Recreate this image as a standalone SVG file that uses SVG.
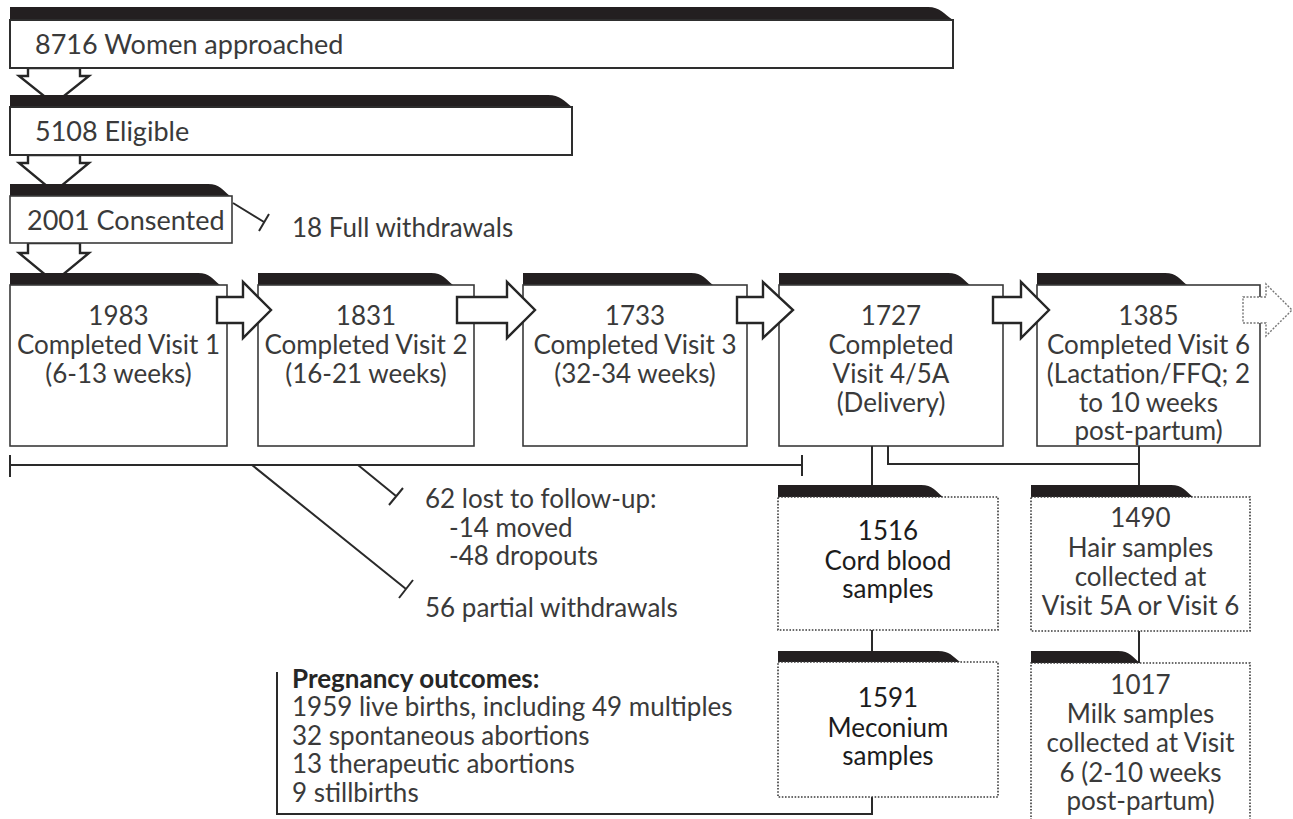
<svg xmlns="http://www.w3.org/2000/svg" width="1293" height="819" viewBox="0 0 1293 819">
  <style>
    .txt { font-family: Lato, "Open Sans", "Liberation Sans", sans-serif; font-size: 26px; fill: #3a3a3a; }
    .big { font-size: 27px; }
    .mid { text-anchor: middle; }
    .dark { fill: #1c1c1c; }
    .bold { font-weight: bold; fill: #262626; }
    .bar { fill: #231f20; }
    .body { fill: #fff; stroke: #2e2e2e; stroke-width: 2; }
    .thin { fill: #fff; stroke: #3a3a3a; stroke-width: 1.6; }
    .dot { fill: #fff; stroke: #3a3a3a; stroke-width: 1.6; stroke-dasharray: 1.6 1.6; }
    .line { fill: none; stroke: #2a2a2a; stroke-width: 2; }
    .blk { fill: #fff; stroke: #262626; stroke-width: 2.4; stroke-linejoin: miter; }
    .blk-dot { fill: #fff; stroke: #777; stroke-width: 1.4; stroke-dasharray: 2 1.5; }
  </style>

  <!-- block arrows (drawn first so the banners overlap their tips) -->
  <g id="flow-arrows">
    <path class="blk" d="M28,68 H80 V76 H89 L54,104 L19,76 H28 Z"/>
    <path class="blk" d="M28,155 H80 V163 H89 L54,192 L19,163 H28 Z"/>
    <path class="blk" d="M28,243 H80 V253 H89 L54,282 L19,253 H28 Z"/>
  </g>

  <!-- recruitment boxes -->
  <g id="node-approached">
    <path class="bar" d="M10,20 V7 H928 C940,7 944,14 953,20 Z"/>
    <rect class="body" x="10" y="20" width="943" height="48"/>
    <text class="txt big" x="35" y="54">8716 Women approached</text>
  </g>
  <g id="node-eligible">
    <path class="bar" d="M10,107 V95 H548 C560,95 564,101 572,107 Z"/>
    <rect class="body" x="10" y="107" width="562" height="48"/>
    <text class="txt big" x="35" y="141">5108 Eligible</text>
  </g>
  <g id="node-consented">
    <path class="bar" d="M10,196 V184 H208 C220,184 222,190 230,196 Z"/>
    <rect class="thin" x="10" y="196" width="222" height="47"/>
    <text class="txt big" x="27" y="230">2001 Consented</text>
  </g>
  <g id="node-full-withdrawals">
    <text class="txt" x="292" y="237">18 Full withdrawals</text>
  </g>

  <!-- visit boxes -->
  <g id="node-visit1">
    <path class="bar" d="M10,285 V273 H198 C210,273 212,279 220,285 Z"/>
    <rect class="thin" x="10" y="285" width="217" height="161"/>
    <text class="txt mid" x="118.5" y="325">1983</text>
    <text class="txt mid" x="118.5" y="354">Completed Visit 1</text>
    <text class="txt mid" x="118.5" y="383">(6-13 weeks)</text>
  </g>
  <g id="node-visit2">
    <path class="bar" d="M258,285 V273 H431 C443,273 445,279 453,285 Z"/>
    <rect class="thin" x="258" y="285" width="216" height="161"/>
    <text class="txt mid" x="366" y="325">1831</text>
    <text class="txt mid" x="366" y="354">Completed Visit 2</text>
    <text class="txt mid" x="366" y="383">(16-21 weeks)</text>
  </g>
  <g id="node-visit3">
    <path class="bar" d="M523,285 V273 H691 C703,273 705,279 713,285 Z"/>
    <rect class="thin" x="523" y="285" width="224" height="161"/>
    <text class="txt mid" x="635" y="325">1733</text>
    <text class="txt mid" x="635" y="354">Completed Visit 3</text>
    <text class="txt mid" x="635" y="383">(32-34 weeks)</text>
  </g>
  <g id="node-visit4">
    <path class="bar" d="M779,285 V273 H948 C960,273 962,279 970,285 Z"/>
    <rect class="thin" x="779" y="285" width="224" height="161"/>
    <text class="txt mid" x="891" y="325">1727</text>
    <text class="txt mid" x="891" y="354">Completed</text>
    <text class="txt mid" x="891" y="383">Visit 4/5A</text>
    <text class="txt mid" x="891" y="412">(Delivery)</text>
  </g>
  <g id="node-visit6">
    <path class="bar" d="M1037,285 V273 H1165 C1177,273 1179,279 1187,285 Z"/>
    <rect class="thin" x="1037" y="285" width="223" height="161"/>
    <text class="txt mid" x="1148.5" y="325">1385</text>
    <text class="txt mid" x="1148.5" y="354">Completed Visit 6</text>
    <text class="txt mid" x="1148.5" y="383">(Lactation/FFQ; 2</text>
    <text class="txt mid" x="1148.5" y="412">to 10 weeks</text>
    <text class="txt mid" x="1148.5" y="440">post-partum)</text>
  </g>

  <!-- arrows between visits -->
  <g id="visit-arrows">
    <path class="blk" d="M217,297 H243 V282 L271,310 L243,338 V323 H217 Z"/>
    <path class="blk" d="M457,297 H507 V282 L535,310 L507,338 V323 H457 Z"/>
    <path class="blk" d="M737,297 H763 V282 L793,310 L763,338 V323 H737 Z"/>
    <path class="blk" d="M993,297 H1021 V282 L1049,310 L1021,338 V323 H993 Z"/>
    <path class="blk-dot" d="M1243,297 H1266 V284 L1292,310 L1266,336 V323 H1243 Z"/>
  </g>

  <!-- connectors -->
  <g id="connectors">
    <path class="line" d="M233,203 L264,222 M259,231 L269,214"/>
    <path class="line" d="M10,465 H802 M10,455 V477 M802,455 V476"/>
    <path class="line" d="M252,465 L406,589 M399,598 L413,580"/>
    <path class="line" d="M358,465 L396,496 M389,505 L403,488"/>
    <path class="line" d="M872,446 V485"/>
    <path class="line" d="M888,446 V464 H1139"/>
    <path class="line" d="M1139,446 V485"/>
    <path class="line" d="M872,630 V651"/>
    <path class="line" d="M1139,631 V663"/>
    <path class="line" d="M872,797 V814 H277 V672"/>
  </g>

  <!-- losses -->
  <g id="node-lost">
    <text class="txt" x="425" y="508">62 lost to follow-up:</text>
    <text class="txt" x="449" y="537">-14 moved</text>
    <text class="txt" x="449" y="565">-48 dropouts</text>
  </g>
  <g id="node-partial">
    <text class="txt" x="425" y="617">56 partial withdrawals</text>
  </g>

  <!-- biological samples -->
  <g id="node-cord">
    <path class="bar" d="M778,497 V485 H921 C933,485 935,491 943,497 Z"/>
    <rect class="dot" x="778" y="497" width="220" height="133"/>
    <text class="txt mid dark" x="888" y="540">1516</text>
    <text class="txt mid dark" x="888" y="570">Cord blood</text>
    <text class="txt mid dark" x="888" y="598">samples</text>
  </g>
  <g id="node-meconium">
    <path class="bar" d="M778,662 V651 H938 C950,651 952,656 960,662 Z"/>
    <rect class="dot" x="778" y="662" width="220" height="135"/>
    <text class="txt mid dark" x="888" y="707">1591</text>
    <text class="txt mid dark" x="888" y="737">Meconium</text>
    <text class="txt mid dark" x="888" y="765">samples</text>
  </g>
  <g id="node-hair">
    <path class="bar" d="M1031,497 V485 H1171 C1183,485 1185,491 1193,497 Z"/>
    <rect class="dot" x="1031" y="497" width="219" height="134"/>
    <text class="txt mid" x="1140.5" y="527">1490</text>
    <text class="txt mid" x="1140.5" y="557">Hair samples</text>
    <text class="txt mid" x="1140.5" y="586">collected at</text>
    <text class="txt mid" x="1140.5" y="615">Visit 5A or Visit 6</text>
  </g>
  <g id="node-milk">
    <path class="bar" d="M1031,663 V651 H1118 C1130,651 1132,657 1140,663 Z"/>
    <rect class="dot" x="1031" y="663" width="219" height="170"/>
    <text class="txt mid" x="1140.5" y="694">1017</text>
    <text class="txt mid" x="1140.5" y="723">Milk samples</text>
    <text class="txt mid" x="1140.5" y="752">collected at Visit</text>
    <text class="txt mid" x="1140.5" y="782">6 (2-10 weeks</text>
    <text class="txt mid" x="1140.5" y="810">post-partum)</text>
  </g>

  <!-- outcomes -->
  <g id="node-outcomes">
    <text class="txt bold" x="292" y="688">Pregnancy outcomes:</text>
    <text class="txt" x="292" y="716">1959 live births, including 49 multiples</text>
    <text class="txt" x="292" y="745">32 spontaneous abortions</text>
    <text class="txt" x="292" y="773">13 therapeutic abortions</text>
    <text class="txt" x="292" y="802">9 stillbirths</text>
  </g>
</svg>
